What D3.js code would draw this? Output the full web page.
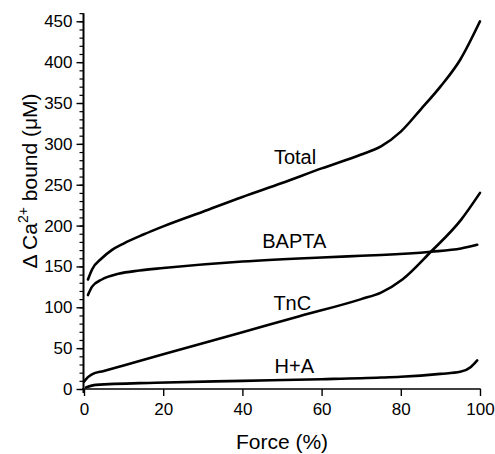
<!DOCTYPE html>
<html>
<head>
<meta charset="utf-8">
<script src="https://cdn.jsdelivr.net/npm/d3@7"></script>
<style>
  html, body { margin: 0; padding: 0; background: #fff; }
  svg { display: block; font-family: "Liberation Sans", Arial, sans-serif; }
</style>
</head>
<body>
<svg id="chart" width="495" height="454"></svg>
<script>
// Force (%) at which each bound-Ca2+ estimate is sampled, and the estimates (µM)
const totalForce = [1, 2, 4.5, 7, 10, 15, 20, 30, 40, 50, 60, 70, 75, 80, 85, 90, 95, 100];
const totalBound = [134, 146, 160, 170, 178, 189, 199, 217, 235, 252, 270, 287, 297, 315, 342, 370, 403, 450];

const baptaForce = [1, 2, 4.5, 8.7, 14, 20, 40, 60, 70, 75, 87.6, 95.2, 99.3];
const baptaBound = [115, 125, 134, 141, 145, 148, 156, 161, 163, 164, 168, 172, 176.5];

const tncForce = [0, 1, 2, 5, 10, 20, 40, 54.4, 70, 75, 80.4, 87.6, 95.2, 100];
const tncBound = [9, 14.5, 18, 22.1, 28.9, 42.5, 69.5, 89, 110, 118, 134, 168, 207, 240];

const haForce = [0.5, 3, 18, 40, 60, 75, 80, 90, 95, 97.7, 99.3];
const haBound = [2, 5, 7.7, 10, 12, 14, 15, 18.5, 21, 27, 35];

// Curve names and where each name sits, in data units (force %, µM)
const seriesNames = ["Total", "BAPTA", "TnC", "H+A"];
const labelForce = [53.3, 53.1, 52.6, 53.1];
const labelBound = [275, 172.6, 96.7, 19.6];

const xTicks = [0, 20, 40, 60, 80, 100];
const yMajorTicks = d3.range(0, 451, 50);
const yMinorTicks = d3.range(0, 461, 10);

const series = [
  totalForce.map((f, i) => [f, totalBound[i]]),
  baptaForce.map((f, i) => [f, baptaBound[i]]),
  tncForce.map((f, i) => [f, tncBound[i]]),
  haForce.map((f, i) => [f, haBound[i]])
];

const svg = d3.select("#chart");
const x = d3.scaleLinear().domain([0, 100]).range([84, 480]);
const y = d3.scaleLinear().domain([0, 450]).range([389, 21.3]);

// Y axis: minor ticks every 10, labelled major ticks every 50
const yMinor = svg.append("g")
  .attr("transform", `translate(${x(0) - 0.5},0)`)
  .call(d3.axisLeft(y).tickValues(yMinorTicks).tickSize(4).tickFormat(""))
  .call(g => g.select(".domain").remove());
yMinor.selectAll("line").attr("stroke", "#000").attr("stroke-width", 1.2);

const yAxis = svg.append("g")
  .attr("transform", `translate(${x(0) - 0.5},0)`)
  .call(d3.axisLeft(y).tickValues(yMajorTicks).tickSize(7).tickPadding(4).tickSizeOuter(0));
yAxis.select(".domain").remove();
yAxis.selectAll("line").attr("stroke", "#000").attr("stroke-width", 1.4);
yAxis.selectAll("text").attr("font-size", 17).attr("fill", "#000")
  .attr("font-family", "Liberation Sans, Arial, sans-serif");
svg.append("line")
  .attr("x1", x(0) - 0.5).attr("x2", x(0) - 0.5)
  .attr("y1", y(460)).attr("y2", y(0) + 4)
  .attr("stroke", "#000").attr("stroke-width", 2);

// X axis
const xAxis = svg.append("g")
  .attr("transform", `translate(0,${y(0)})`)
  .call(d3.axisBottom(x).tickValues(xTicks).tickSize(7).tickPadding(7).tickSizeOuter(0));
xAxis.select(".domain").remove();
xAxis.selectAll("line").attr("stroke", "#000").attr("stroke-width", 1.4);
xAxis.selectAll("text").attr("font-size", 17).attr("fill", "#000")
  .attr("font-family", "Liberation Sans, Arial, sans-serif");
svg.append("line")
  .attr("x1", x(0) - 2).attr("x2", x(100) + 0.7)
  .attr("y1", y(0)).attr("y2", y(0))
  .attr("stroke", "#000").attr("stroke-width", 1.6);

// Curves
const line = d3.line()
  .x(d => x(d[0]))
  .y(d => y(d[1]))
  .curve(d3.curveMonotoneX);

svg.append("g").selectAll("path")
  .data(series)
  .join("path")
  .attr("d", line)
  .attr("fill", "none")
  .attr("stroke", "#000")
  .attr("stroke-width", 2.6)
  .attr("stroke-linejoin", "round")
  .attr("stroke-linecap", "round");

// Curve names
svg.append("g").selectAll("text")
  .data(seriesNames)
  .join("text")
  .attr("x", (d, i) => x(labelForce[i]))
  .attr("y", (d, i) => y(labelBound[i]))
  .attr("text-anchor", "middle")
  .attr("font-size", 20)
  .attr("fill", "#000")
  .text(d => d);

// Axis titles
svg.append("text")
  .attr("x", 282).attr("y", 449)
  .attr("text-anchor", "middle")
  .attr("font-size", 21)
  .attr("fill", "#000")
  .text("Force (%)");

const yTitle = svg.append("text")
  .attr("transform", "translate(37,181) rotate(-90)")
  .attr("text-anchor", "middle")
  .attr("font-size", 21)
  .attr("fill", "#000");
yTitle.append("tspan").text("\u0394 Ca");
yTitle.append("tspan").attr("font-size", 14).attr("dy", -9).text("2+");
yTitle.append("tspan").attr("dy", 9).text(" bound (\u03bcM)");
</script>
</body>
</html>
